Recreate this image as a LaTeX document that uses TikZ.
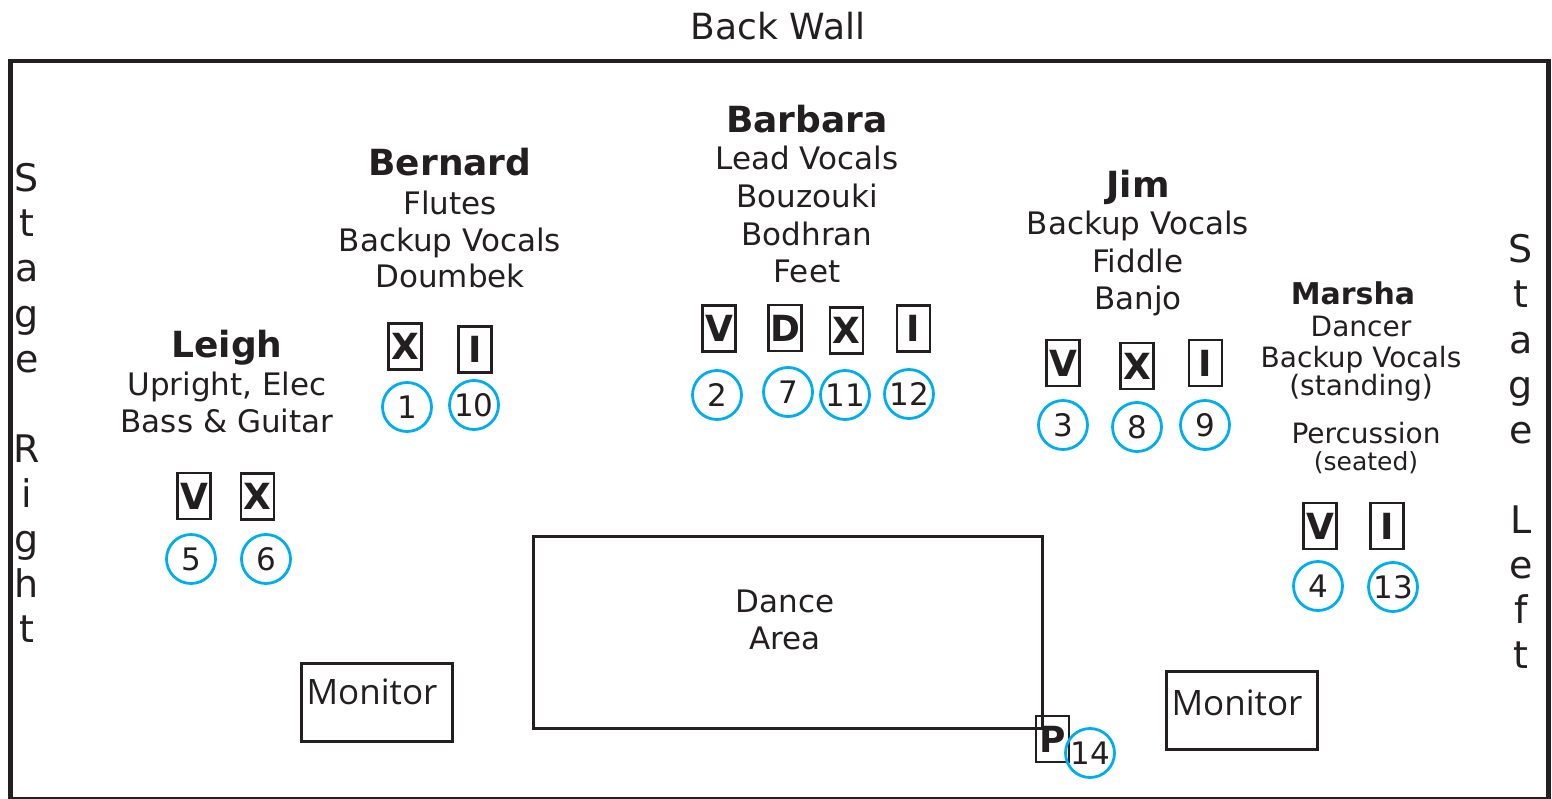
\documentclass[tikz,border=0pt]{standalone}
\usepackage{fontspec}
\setmainfont{DejaVu Sans}
\newfontfamily\monfont{Open Sans}
\definecolor{ink}{HTML}{231F20}
\definecolor{cyanline}{HTML}{00AEEF}
\begin{document}
\begin{tikzpicture}[x=1pt,y=-1pt,
  every node/.style={text=ink},
  body/.style={font=\fontsize{31}{37}\selectfont, inner sep=0, anchor=base},
  small/.style={font=\fontsize{28}{30}\selectfont, inner sep=0, anchor=base},
  tiny/.style={font=\fontsize{25}{28}\selectfont, inner sep=0, anchor=base},
  who/.style={font=\fontsize{36}{40}\selectfont\bfseries, inner sep=0, anchor=base},
  whosmall/.style={font=\fontsize{30}{32}\selectfont\bfseries, inner sep=0, anchor=base},
  stagelet/.style={font=\fontsize{38}{40}\selectfont, inner sep=0, anchor=base},
  lbox/.style={draw=ink, line width=2.5, minimum width=33, minimum height=46, inner sep=0, font=\fontsize{36}{36}\selectfont\bfseries},
  num/.style={circle, draw=cyanline, line width=2.8, minimum size=49, inner sep=0, font=\fontsize{31}{31}\selectfont},
  plainbox/.style={draw=ink, line width=2.5, inner sep=0},
  montext/.style={font=\monfont\fontsize{35}{35}\selectfont, inner sep=0, anchor=base},
]
\useasboundingbox (0,0) rectangle (1552,799);
% stage outline
\node[plainbox, line width=4.5, minimum width=1538, minimum height=738, anchor=north west] (stage) at (8,59) {};
\node[font=\fontsize{36}{40}\selectfont, inner sep=0, anchor=base] (backwall) at (778,40) {Back Wall};
% Stage Right
\node[stagelet] (sr1) at (27,192) {S};
\node[stagelet] (sr2) at (27,237) {t};
\node[stagelet] (sr3) at (27,282) {a};
\node[stagelet] (sr4) at (27,327) {g};
\node[stagelet] (sr5) at (27,372) {e};
\node[stagelet] (sr6) at (27,462) {R};
\node[stagelet] (sr7) at (27,507) {i};
\node[stagelet] (sr8) at (27,552) {g};
\node[stagelet] (sr9) at (27,597) {h};
\node[stagelet] (sr10) at (27,642) {t};
% Stage Left
\node[stagelet] (sl1) at (1521,263) {S};
\node[stagelet] (sl2) at (1521,308) {t};
\node[stagelet] (sl3) at (1521,353) {a};
\node[stagelet] (sl4) at (1521,398) {g};
\node[stagelet] (sl5) at (1521,443) {e};
\node[stagelet] (sl6) at (1521,533) {L};
\node[stagelet] (sl7) at (1521,578) {e};
\node[stagelet] (sl8) at (1521,623) {f};
\node[stagelet] (sl9) at (1521,668) {t};
% Bernard
\node[who] (bern) at (450,176) {Bernard};
\node[body] (bern1) at (450,215) {Flutes};
\node[body] (bern2) at (450,252) {Backup Vocals};
\node[body] (bern3) at (450,288) {Doumbek};
\node[lbox] (bernX) at (405,346.5) {X};
\node[lbox] (bernI) at (475,349.5) {I};
\node[num] (c1) at (407,407) {1};
\node[num] (c10) at (474,405) {10};
% Barbara
\node[who] (barb) at (807,133) {Barbara};
\node[body] (barb1) at (807,170) {Lead Vocals};
\node[body] (barb2) at (807,208) {Bouzouki};
\node[body] (barb3) at (807,246) {Bodhran};
\node[body] (barb4) at (807,283) {Feet};
\node[lbox] (barbV) at (719,328.5) {V};
\node[lbox] (barbD) at (785,328) {D};
\node[lbox] (barbX) at (846.5,330.5) {X};
\node[lbox] (barbI) at (913.5,328.5) {I};
\node[num] (c2) at (717,395) {2};
\node[num] (c7) at (788,392) {7};
\node[num] (c11) at (845,395) {11};
\node[num] (c12) at (909,394) {12};
% Jim
\node[who] (jim) at (1138,198) {Jim};
\node[body] (jim1) at (1138,235) {Backup Vocals};
\node[body] (jim2) at (1138,273) {Fiddle};
\node[body] (jim3) at (1138,310) {Banjo};
\node[lbox] (jimV) at (1063,363) {V};
\node[lbox] (jimX) at (1137,366) {X};
\node[lbox] (jimI) at (1205.5,363) {I};
\node[num] (c3) at (1063,425) {3};
\node[num] (c8) at (1137,427) {8};
\node[num] (c9) at (1205,425) {9};
% Marsha
\node[whosmall] (mar) at (1353,305) {Marsha};
\node[small] (mar1) at (1361,337) {Dancer};
\node[small] (mar2) at (1361,367) {Backup Vocals};
\node[small] (mar3) at (1361,395) {(standing)};
\node[small] (mar4) at (1366,443) {Percussion};
\node[tiny] (mar5) at (1366,470) {(seated)};
\node[lbox] (marV) at (1320,526) {V};
\node[lbox] (marI) at (1387,526) {I};
\node[num] (c4) at (1318,586) {4};
\node[num] (c13) at (1393,587) {13};
% Leigh
\node[who] (leigh) at (227,358) {Leigh};
\node[body] (leigh1) at (227,395) {Upright, Elec};
\node[body] (leigh2) at (227,432) {Bass \& Guitar};
\node[lbox] (leighV) at (194,496) {V};
\node[lbox] (leighX) at (257.5,496.5) {X};
\node[num] (c5) at (191,559) {5};
\node[num] (c6) at (266,559) {6};
% Dance area
\node[plainbox, minimum width=509, minimum height=192, anchor=north west] (dance) at (532,535) {};
\node[body, anchor=base] (dance1) at (785,612) {Dance};
\node[body, anchor=base] (dance2) at (785,649) {Area};
% P and 14
\node[lbox] (pbox) at (1052.5,739) {P};
\node[num] (c14) at (1090,753) {14};
% Monitors
\node[plainbox, minimum width=151, minimum height=78, anchor=north west] (mon1) at (300,662) {};
\node[montext] (mon1t) at (372,704) {Monitor};
\node[plainbox, minimum width=151, minimum height=78, anchor=north west] (mon2) at (1165,670) {};
\node[montext] (mon2t) at (1237,715) {Monitor};
\end{tikzpicture}
\end{document}
